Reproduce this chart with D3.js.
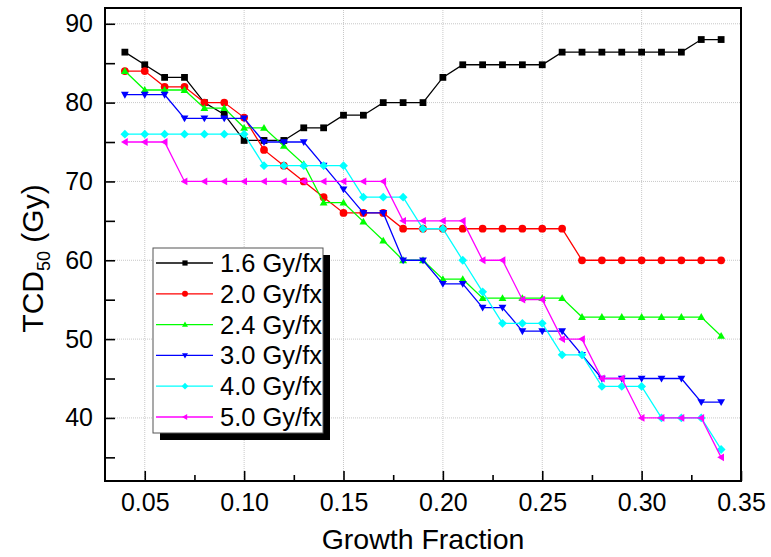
<!DOCTYPE html>
<html>
<head>
<meta charset="utf-8">
<script src="https://cdn.jsdelivr.net/npm/d3@7"></script>
<style>
body { margin:0; background:#fff; }
text { font-family: Arial, "Liberation Sans", sans-serif; }
</style>
</head>
<body>
<script>

//data
var growth = [0.04,0.05,0.06,0.07,0.08,0.09,0.10,0.11,0.12,0.13,0.14,0.15,0.16,0.17,0.18,0.19,
              0.20,0.21,0.22,0.23,0.24,0.25,0.26,0.27,0.28,0.29,0.30,0.31,0.32,0.33,0.34]

var tcd16 = [86.4,84.8,83.2,83.2,80.0,78.5,75.2,75.2,75.2,76.8,76.8,78.4,78.4,80.0,80.0,80.0,
             83.2,84.8,84.8,84.8,84.8,84.8,86.4,86.4,86.4,86.4,86.4,86.4,86.4,88.0,88.0]
var tcd20 = [84,84,82,82,80,80,78.1,74,72,70,68,66,66,66,64,64,
             64,64,64,64,64,64,64,60,60,60,60,60,60,60,60]
var tcd24 = [84,81.6,81.6,81.6,79.3,79.3,76.8,76.8,74.5,72.2,67.3,67.3,64.9,62.5,60,60,
             57.6,57.6,55.2,55.2,55.2,55.2,55.2,52.8,52.8,52.8,52.8,52.8,52.8,52.8,50.4]
var tcd30 = [81,81,81,78,78,78,78,75,75,75,72,69,66,66,60,60,
             57,57,54,54,51,51,51,48,45,45,45,45,45,42,42]
var tcd40 = [76,76,76,76,76,76,76,72,72,72,72,72,68,68,68,64,
             64,60,56,52,52,52,48,48,44,44,44,40,40,40,36]
var tcd50 = [75,75,75,70,70,70,70,70,70,70,70,70,70,70,65,65,
             65,65,60,60,55,55,50,50,45,45,40,40,40,40,35]

var seriesNames = ["1.6 Gy/fx","2.0 Gy/fx","2.4 Gy/fx","3.0 Gy/fx","4.0 Gy/fx","5.0 Gy/fx"]
var seriesValues = [tcd16,tcd20,tcd24,tcd30,tcd40,tcd50]
var seriesColors = ["#000000","#ff0000","#00ff00","#0000ff","#00ffff","#ff00ff"]
var seriesMarkers = ["square","circle","up","down","diamond","left"]

var xTicks = [0.05,0.10,0.15,0.20,0.25,0.30,0.35]
var yTicks = [40,50,60,70,80,90]

var W = 771, H = 557
var pLeft = 105, pRight = 741, pTop = 8, pBottom = 481

var svg = d3.select("body").append("svg")
.attr("width",W)
.attr("height",H)

var x = d3.scaleLinear().domain([0.03,0.35]).range([pLeft,pRight])
var y = d3.scaleLinear().domain([32,92]).range([pBottom,pTop])

//grid
var grid = svg.append("g").attr("class","grid")
grid.selectAll("line.gx")
.data(xTicks.filter(function(d){ return d < 0.35 }))
.enter().append("line")
.attr("x1",function(d){ return x(d) })
.attr("x2",function(d){ return x(d) })
.attr("y1",pTop).attr("y2",pBottom)
.attr("stroke","#c8c8c8").attr("stroke-width",1).attr("stroke-dasharray","1,1")
grid.selectAll("line.gy")
.data(yTicks)
.enter().append("line")
.attr("y1",function(d){ return y(d) })
.attr("y2",function(d){ return y(d) })
.attr("x1",pLeft).attr("x2",pRight)
.attr("stroke","#c8c8c8").attr("stroke-width",1).attr("stroke-dasharray","1,1")

//axes, ticks point inward
var xAxis = d3.axisBottom(x).tickValues(xTicks).tickFormat(d3.format(".2f")).tickSizeInner(-10).tickSizeOuter(0).tickPadding(12)
var xMinor = d3.axisBottom(x).tickValues([0.075,0.125,0.175,0.225,0.275,0.325]).tickFormat("").tickSizeInner(-6).tickSizeOuter(0)
var yAxis = d3.axisLeft(y).tickValues(yTicks).tickSizeInner(-10).tickSizeOuter(0).tickPadding(12)
var yMinor = d3.axisLeft(y).tickValues([35,45,55,65,75,85]).tickFormat("").tickSizeInner(-10).tickSizeOuter(0)

function styleAxis(g)
{
  g.select(".domain").remove()
  g.selectAll("line").attr("stroke","#000").attr("stroke-width",1.6)
  g.selectAll("text").attr("font-size","25px").attr("fill","#000")
}

svg.append("g").attr("transform","translate(0,"+pBottom+")").call(xAxis).call(styleAxis)
svg.append("g").attr("transform","translate(0,"+pBottom+")").call(xMinor).call(styleAxis)
svg.append("g").attr("transform","translate("+pLeft+",0)").call(yAxis).call(styleAxis)
svg.append("g").attr("transform","translate("+pLeft+",0)").call(yMinor).call(styleAxis)

svg.append("rect")
.attr("x",pLeft).attr("y",pTop)
.attr("width",pRight-pLeft).attr("height",pBottom-pTop)
.attr("fill","none").attr("stroke","#000").attr("stroke-width",2)

//markers
function markerPath(type,s)
{
  if(type=="square") return "M"+(-s)+","+(-s)+"H"+s+"V"+s+"H"+(-s)+"Z"
  if(type=="circle") return d3.symbol().type(d3.symbolCircle).size(Math.PI*s*s*1.3)()
  if(type=="up") return "M0,"+(-s*1.15)+"L"+(s*1.15)+","+(s*0.85)+"L"+(-s*1.15)+","+(s*0.85)+"Z"
  if(type=="down") return "M0,"+(s*1.15)+"L"+(s*1.15)+","+(-s*0.85)+"L"+(-s*1.15)+","+(-s*0.85)+"Z"
  if(type=="diamond") return "M0,"+(-s*1.3)+"L"+(s*1.3)+",0L0,"+(s*1.3)+"L"+(-s*1.3)+",0Z"
  if(type=="left") return "M"+(-s*1.15)+",0L"+(s*0.85)+","+(-s*1.15)+"L"+(s*0.85)+","+(s*1.15)+"Z"
}

var line = d3.line()
.x(function(d){ return x(d[0]) })
.y(function(d){ return y(d[1]) })

var plot = svg.append("g")

seriesValues.forEach(function(vals,k)
{
  var pts = growth.map(function(g,i){ return [g,vals[i]] })
  var g = plot.append("g")
  g.append("path")
  .attr("d",line(pts))
  .attr("fill","none")
  .attr("stroke",seriesColors[k])
  .attr("stroke-width",1.3)
  g.selectAll("path.pt")
  .data(pts)
  .enter().append("path")
  .attr("class","pt")
  .attr("transform",function(d){ return "translate("+x(d[0])+","+y(d[1])+")" })
  .attr("d",markerPath(seriesMarkers[k],3.4))
  .attr("fill",seriesColors[k])
})

//legend
var lx = 153, ly = 248, lw = 170, lh = 185
var legend = svg.append("g")
legend.append("rect")
.attr("x",lx+7).attr("y",ly+7).attr("width",lw).attr("height",lh)
.attr("fill","#000")
legend.append("rect")
.attr("x",lx).attr("y",ly).attr("width",lw).attr("height",lh)
.attr("fill","#fff").attr("stroke","#555").attr("stroke-width",1)

var rows = legend.selectAll("g.row")
.data(seriesNames)
.enter().append("g")
.attr("transform",function(d,i){ return "translate("+lx+","+(ly+15+i*30.8)+")" })

rows.append("line")
.attr("x1",3).attr("x2",60).attr("y1",0).attr("y2",0)
.attr("stroke",function(d,i){ return seriesColors[i] })
.attr("stroke-width",1.3)
rows.append("path")
.attr("transform","translate(32,0)")
.attr("d",function(d,i){ return markerPath(seriesMarkers[i],2.6) })
.attr("fill",function(d,i){ return seriesColors[i] })
rows.append("text")
.attr("x",67).attr("y",9)
.attr("font-size","25.5px")
.text(function(d){ return d })

//axis titles
svg.append("text")
.attr("x",(pLeft+pRight)/2).attr("y",549)
.attr("text-anchor","middle")
.attr("font-size","28.5px")
.text("Growth Fraction")

var yTitle = svg.append("text")
.attr("transform","translate(43,"+((pTop+pBottom)/2+14)+") rotate(-90)")
.attr("text-anchor","middle")
.attr("font-size","30px")
yTitle.append("tspan").text("TCD")
yTitle.append("tspan").attr("font-size","18px").attr("dy",7).text("50")
yTitle.append("tspan").attr("dy",-7).text(" (Gy)")

</script>
</body>
</html>
